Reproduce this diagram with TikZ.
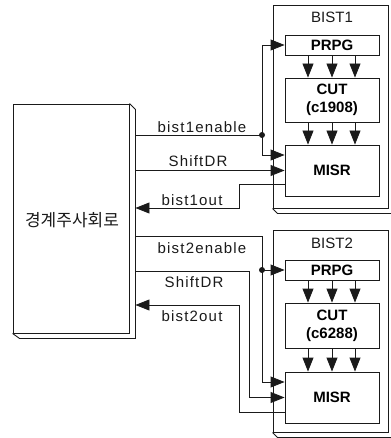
\documentclass[tikz,border=0pt]{standalone}
\usepackage{fontspec}
\setmainfont{Liberation Sans}
\newfontfamily\krfont{Noto Sans CJK KR}
\newfontfamily\lblfont[LetterSpace=8]{Liberation Sans}
\usetikzlibrary{arrows.meta,positioning,calc}
\usepackage{xcolor}
\definecolor{ink}{HTML}{1A1A1A}

\begin{document}
\begin{tikzpicture}[
  x=1pt, y=-1pt,
  >={Triangle[length=14pt,width=11pt]},
  box/.style={draw=ink, line width=0.9pt, fill=white, inner sep=0pt},
  blk/.style={box, minimum width=94pt, align=center, font=\bfseries\fontsize{15}{18}\selectfont},
  wire/.style={draw=ink, line width=0.9pt},
  lbl/.style={font=\lblfont\fontsize{15}{17}\selectfont, text=ink},
]
\useasboundingbox (0,0) rectangle (390,438);

% boundary scan circuit
\node[box, minimum width=116pt, minimum height=229pt] (sys) at (71,218.5) {};
\draw[wire] (sys.north east) -- ++(6,6) |- ($(sys.south west)+(7,5)$) -- (sys.south west);
\node[font=\krfont\fontsize{17}{20}\selectfont, text=ink] (syslbl) at (72,220) {경계주사회로};
\coordinate (sysR) at ($(sys.east)+(6,0)$);

% BIST1
\node[box, minimum width=115pt, minimum height=203pt] (bistA) at (330.5,106.5) {};
\draw[wire] (bistA.south west) -- ++(5,5) -| ($(bistA.north east)+(5,5)$);
\node[font=\fontsize{15}{17}\selectfont, text=ink] (bistAlbl) at (332,17) {BIST1};

% BIST2
\node[box, minimum width=115pt, minimum height=202pt] (bistB) at (330.5,331) {};
\draw[wire] (bistB.south west) -- ++(5,5) -| ($(bistB.north east)+(5,5)$);
\node[font=\fontsize{15}{17}\selectfont, text=ink] (bistBlbl) at (332,243) {BIST2};

% inner blocks
\node[blk, minimum height=20pt] (prpgA) at (332,45) {PRPG};
\node[blk, minimum height=44pt] (cutA) at (332,100) {CUT\\(c1908)};
\node[blk, minimum height=51pt] (misrA) at (332,170.5) {MISR};

\node[blk, minimum height=20pt] (prpgB) at (332,270) {PRPG};
\node[blk, minimum height=45pt] (cutB) at (332,325.5) {CUT\\(c6288)};
\node[blk, minimum height=51pt] (misrB) at (332,397.5) {MISR};

\foreach \dx in {-24,0,23} {
  \draw[wire,->] ([xshift=\dx pt]prpgA.south) -- ([xshift=\dx pt]cutA.north);
  \draw[wire,->] ([xshift=\dx pt]cutA.south) -- ([xshift=\dx pt]misrA.north);
  \draw[wire,->] ([xshift=\dx pt]prpgB.south) -- ([xshift=\dx pt]cutB.north);
  \draw[wire,->] ([xshift=\dx pt]cutB.south) -- ([xshift=\dx pt]misrB.north);
}

% wires to BIST1
\coordinate (dotA) at (262,135);
\draw[wire] (sysR |- dotA) -- (dotA);
\draw[wire,->] (dotA) |- (prpgA.west);
\draw[wire,->] (dotA) |- ([yshift=15.5pt]misrA.west);
\fill[ink] (dotA) circle (3pt);
\draw[wire,->] (sysR |- misrA.west) -- (misrA.west);
\coordinate (outA) at (239,208);
\draw[wire,->] ([yshift=-13.5pt]misrA.west) -| (outA) -- (sysR |- outA);

\node[lbl] (enAlbl) at (202,127) {bist1enable};
\node[lbl] (sdAlbl) at (198,161) {ShiftDR};
\node[lbl] (outAlbl) at (192,200) {bist1out};

% wires to BIST2
\coordinate (enB) at (262,236);
\coordinate (dotB) at (enB |- prpgB.west);
\draw[wire] (sysR |- enB) -- (enB) -- (dotB);
\draw[wire,->] (dotB) -- (prpgB.west);
\draw[wire,->] (dotB) |- ([yshift=15.5pt]misrB.west);
\fill[ink] (dotB) circle (3pt);
\coordinate (sdB) at (249,271);
\draw[wire,->] (sysR |- sdB) -- (sdB) |- (misrB.west);
\coordinate (outB) at (239,305);
\draw[wire,->] ([yshift=-14.5pt]misrB.west) -| (outB) -- (sysR |- outB);

\node[lbl] (enBlbl) at (202,248) {bist2enable};
\node[lbl] (sdBlbl) at (194,282) {ShiftDR};
\node[lbl] (outBlbl) at (192,316) {bist2out};

\end{tikzpicture}
\end{document}
